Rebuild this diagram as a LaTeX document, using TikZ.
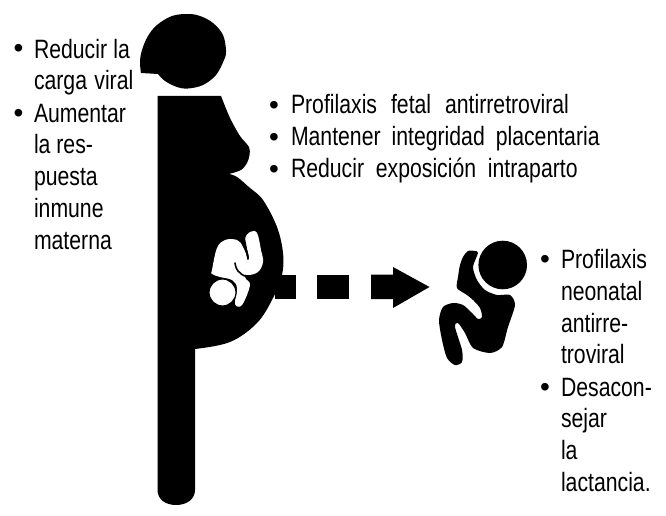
\documentclass[tikz,border=0pt]{standalone}
\usepackage{fontspec}
\setmainfont[FakeStretch=0.8]{Liberation Sans}
\newfontfamily\bltfont{Liberation Sans}
\tikzset{
  txt/.style={anchor=base west,inner sep=0pt,outer sep=0pt,font=\fontsize{19.9}{24}\selectfont},
  blt/.style={anchor=center,inner sep=0pt,outer sep=0pt,font=\bltfont\fontsize{21}{24}\selectfont},
  sil/.style={fill=black,draw=none}
}
\newcommand{\jline}[2]{\hbox to #1{#2}}
\begin{document}
\begin{tikzpicture}[x=0.75pt,y=-0.75pt]
\useasboundingbox (0,0) rectangle (666,516);
% mother head
\fill[sil] (141,73) -- (158,74) -- plot[smooth,tension=.6] coordinates{(158,74)(165,81)(177,87)(188,88.5)(203,85)(216,75)(224,60)(226,51)(223,35)(213,23)(200,16)(188,14)(172,16)(157,25)(148,36)(142,50)(140,62)(141,73)} -- cycle;
% mother body
\fill[sil] (157.5,96) -- (221,96) -- plot[smooth,tension=.5] coordinates{(221,96)(230,118)(240,136)(249,147)(249.5,155)(247,163)(241,170)(229,174)} -- plot[smooth,tension=.6] coordinates{(229,174)(237,177)(250,188)(263,200)(277,227)(283,253)(282,275)(273,298)(257,323)(230,342)(195,349)} -- (195,490) .. controls (195,499) and (187,505) .. (176,505) .. controls (165,505) and (157.5,499) .. (157.5,490) -- cycle;
% fetus
\fill[white] plot[smooth cycle,tension=.6] coordinates{(212,270)(217,248)(225,240)(237,240)(243,247)(248,262)(245,277)(250,285)(242,305)(235,304)(237,288)(232,280)(220,277)(212,274)};
\fill[white] plot[smooth cycle,tension=.6] coordinates{(245,240)(250,232)(257,233)(261,250)(263,262)(258,272)(247,275)(240,270)(243,262)(249,258)};
\draw[black,line width=1.2pt,line cap=round] (244,237) -- (248,259);
\draw[black,line width=1.2pt,line cap=round] plot[smooth,tension=.7] coordinates{(235,263)(238,271)(247,276.5)(258,274)};
\filldraw[fill=white,draw=black,line width=.9pt] (222.5,292.5) circle[radius=13.5];
% dashed arrow
\fill[sil] (275,274.5) rectangle (296,299);
\fill[sil] (317,274.5) rectangle (349,299);
\fill[sil] (371,274.5) -- (393,274.5) -- (393,267) -- (429.5,287) -- (393,308) -- (393,299) -- (371,299) -- cycle;
% baby
\fill[sil] plot[smooth cycle,tension=.45] coordinates{(475,251)(468,251)(463,257)(460,265)(458,277)(457,288)(467,295)(473,300)(480,308)(482,317)(478,319)(472,313)(463,305)(453,303)(443,307)(439,320)(442,340)(447,358)(455,365)(462,362)(462,350)(455,327)(458,323)(465,333)(473,348)(490,353)(502,347)(508,327)(515,305)(510,295)(497,295)(485,290)(477,280)(473,267)(478,253)};
\fill[sil] (502.7,265) circle[radius=24.3];
% left text
\node[blt] (b1) at (18.5,51) {•};
\node[txt] (l1) at (34,59) {\jline{72pt}{Reducir la}};
\node[txt] (l2) at (34,90) {\jline{74.5pt}{carga viral}};
\node[blt] (b2) at (18.5,116) {•};
\node[txt] (l3) at (34,123) {Aumentar};
\node[txt] (l4) at (34,154) {la res-};
\node[txt] (l5) at (34,186) {puesta};
\node[txt] (l6) at (34,218) {inmune};
\node[txt] (l7) at (34,249) {materna};
% middle text
\node[blt] (b3) at (274,108) {•};
\node[txt] (m1) at (291,114) {\jline{208.5pt}{Profilaxis fetal antirretroviral}};
\node[blt] (b4) at (274,140) {•};
\node[txt] (m2) at (291,146) {\jline{231.5pt}{Mantener integridad placentaria}};
\node[blt] (b5) at (274,172) {•};
\node[txt] (m3) at (291,178) {\jline{215pt}{Reducir exposición intraparto}};
% right text
\node[blt] (b6) at (545,262) {•};
\node[txt] (r1) at (561,268) {Profilaxis};
\node[txt] (r2) at (561,300) {neonatal};
\node[txt] (r3) at (561,332) {antirre-};
\node[txt] (r4) at (561,363) {troviral};
\node[blt] (b7) at (545,390) {•};
\node[txt] (r5) at (561,396) {Desacon-};
\node[txt] (r6) at (561,427) {sejar};
\node[txt] (r7) at (561,459) {la};
\node[txt] (r8) at (561,491) {lactancia.};
\end{tikzpicture}
\end{document}
